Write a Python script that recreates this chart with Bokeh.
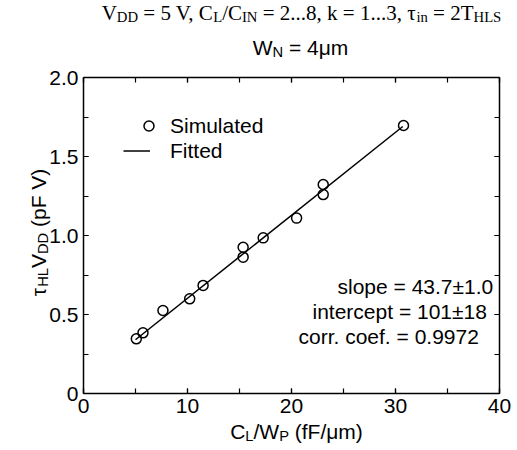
import math
from bokeh.plotting import figure
from bokeh.models import (Range1d, LinearAxis, Label, Legend, LegendItem,
                          SingleIntervalTicker, CustomJSTickFormatter)
from bokeh.embed import file_html
from bokeh.resources import INLINE

# ---------------- data ----------------
sim_x = [5.08, 5.72, 7.64, 10.21, 11.5, 15.35, 15.35, 17.28, 20.49, 23.05, 23.05, 30.77]
sim_y = [0.346, 0.384, 0.525, 0.599, 0.684, 0.926, 0.863, 0.985, 1.11, 1.323, 1.259, 1.696]
fit_x = [5.0, 30.7]
fit_y = [0.34, 1.69]

x_bounds = (0, 40)
y_bounds = (0, 2.0)
x_tick_interval = 10
y_tick_interval = 0.5

legend_labels = ["Simulated", "Fitted"]
stats_lines = ["slope = 43.7\u00b11.0", "intercept = 101\u00b118", "corr. coef. = 0.9972"]

title1_pieces = [("V", 0), ("DD", 1), (" = 5 V, C", 0), ("L", 1), ("/C", 0), ("IN", 1),
                 (" = 2...8, k = 1...3, \u03c4", 0), ("in", 1), (" = 2T", 0), ("HLS", 1)]
title2_pieces = [("W", 0), ("N", 1), (" = 4\u03bcm", 0)]
xlabel_pieces = [("C", 0), ("L", 1), ("/W", 0), ("P", 1), (" (fF/\u03bcm)", 0)]
ylabel_pieces = [("\u03c4", 0), ("HL", 1), ("V", 0), ("DD", 1), (" (pF V)", 0)]

# ---------------- metrics (em widths) ----------------
arial = {' ': .278, '(': .333, ')': .333, '/': .278, '=': .584, '\u00b1': .584, '.': .278,
         'C': .722, 'D': .722, 'F': .611, 'H': .722, 'L': .556, 'N': .722, 'P': .667,
         'V': .667, 'W': .944, 'f': .278, 'm': .833, 'p': .556, '\u03bc': .576, '\u03c4': .45}
for d in "0123456789":
    arial[d] = .556
times = {' ': .25, '=': .564, ',': .25, '.': .25, '/': .278, 'C': .667, 'D': .722,
         'H': .722, 'I': .333, 'L': .611, 'N': .722, 'S': .556, 'T': .611, 'V': .722,
         'k': .5, 'i': .278, 'n': .5, '\u03c4': .44}
for d in "0123456789":
    times[d] = .5
kerning = {("V", ","): -.129}


def text_width(txt, metrics, size):
    w = sum(metrics.get(c, .55) for c in txt)
    if metrics is times:
        w += sum(kerning.get((a, b), 0) for a, b in zip(txt, txt[1:]))
    return w * size


# ---------------- geometry (pixels on the page) ----------------
W, H = 515, 450
PX0, PX1 = 83, 499      # x = 0 and x = 40
PY0, PY1 = 393, 77      # y = 0 and y = 2
BASE_FIX = 6            # Label baseline correction (px)


def dx(px):
    return x_bounds[0] + (px - PX0) / (PX1 - PX0) * (x_bounds[1] - x_bounds[0])


def dy(py):
    return y_bounds[0] + (PY0 - py) / (PY0 - PY1) * (y_bounds[1] - y_bounds[0])


p = figure(width=W, height=H, x_range=Range1d(dx(0), dx(W)), y_range=Range1d(dy(H), dy(0)),
           output_backend="svg", toolbar_location=None,
           min_border_left=0, min_border_right=0, min_border_top=0, min_border_bottom=0)
p.xgrid.visible = False
p.ygrid.visible = False
p.outline_line_color = None
p.background_fill_color = "white"
p.border_fill_color = "white"


def style_axis(ax, labels=True):
    ax.axis_line_color = "black"
    ax.axis_line_width = 1.5
    ax.major_tick_in = 5
    ax.major_tick_out = 0
    ax.minor_tick_in = 5
    ax.minor_tick_out = 0
    ax.major_tick_line_color = "black"
    ax.minor_tick_line_color = "black"
    ax.major_tick_line_width = 1.2
    ax.minor_tick_line_width = 1.2
    ax.major_label_text_font = "Liberation Sans"
    ax.major_label_text_font_size = "21px"
    ax.major_label_text_color = "black"
    ax.major_label_standoff = 5
    if not labels:
        ax.formatter = CustomJSTickFormatter(code='return ""')


xb = p.xaxis[0]
yl = p.yaxis[0]
xb.ticker = SingleIntervalTicker(interval=x_tick_interval, num_minor_ticks=2)
yl.ticker = SingleIntervalTicker(interval=y_tick_interval, num_minor_ticks=2)
xb.formatter = CustomJSTickFormatter(code='return tick == 0 ? "0" : tick.toFixed(0)')
yl.formatter = CustomJSTickFormatter(code='return tick == 0 ? "0" : tick.toFixed(1)')
xb.fixed_location = y_bounds[0]
yl.fixed_location = x_bounds[0]
xb.bounds = x_bounds
yl.bounds = y_bounds
style_axis(xb)
style_axis(yl)

top_ax = LinearAxis(ticker=SingleIntervalTicker(interval=x_tick_interval, num_minor_ticks=2),
                    fixed_location=y_bounds[1], bounds=x_bounds)
right_ax = LinearAxis(ticker=SingleIntervalTicker(interval=y_tick_interval, num_minor_ticks=2),
                      fixed_location=x_bounds[1], bounds=y_bounds)
style_axis(top_ax, labels=False)
style_axis(right_ax, labels=False)
p.add_layout(top_ax, "above")
p.add_layout(right_ax, "right")

# ---------------- glyphs ----------------
r_fit = p.line(fit_x, fit_y, line_color="black", line_width=1.5)
r_sim = p.scatter(sim_x, sim_y, marker="circle", size=10, fill_color=None,
                  line_color="black", line_width=1.5)

# legends (location = lower-left corner, pixels from the frame's lower-left)
common = dict(padding=0, margin=0, spacing=0, border_line_color=None,
              background_fill_alpha=0, label_text_font="Liberation Sans",
              label_text_font_size="21px", label_text_color="black",
              glyph_height=25, label_height=25)
leg1 = Legend(items=[LegendItem(label=legend_labels[0], renderers=[r_sim])],
              location=(136, H - 138), glyph_width=25, label_standoff=9, **common)
leg2 = Legend(items=[LegendItem(label=legend_labels[1], renderers=[r_fit])],
              location=(123, H - 163), glyph_width=27, label_standoff=20, **common)
p.add_layout(leg1)
p.add_layout(leg2)


def add_label(x_px, y_px, txt, font, size, angle=0.0):
    lab = Label(x=dx(x_px), y=dy(y_px), text=txt, angle=angle)
    lab.text_font = font
    lab.text_font_size = f"{size:.1f}px"
    lab.text_color = "black"
    lab.text_align = "left"
    lab.text_baseline = "alphabetic"
    p.add_layout(lab)


# stats text
for txt, lx, base in zip(stats_lines, [337, 312, 298], [292, 317, 342]):
    add_label(lx, base - BASE_FIX, txt, "Liberation Sans", 21)


def compose(pieces, start_px, base_px, font, size, metrics, vertical=False):
    pos = start_px
    for txt, sub in pieces:
        fs = size * 0.7 if sub else size
        shift = size * 0.2 if sub else 0
        lead = len(txt) - len(txt.lstrip(" "))
        lead_w = text_width(" " * lead, metrics, fs)
        w = text_width(txt, metrics, fs)
        core = txt.strip(" ")
        if not vertical:
            add_label(pos + lead_w, base_px + shift - BASE_FIX, core, font, fs)
            pos += w
        else:
            add_label(base_px + shift - BASE_FIX, pos - lead_w, core, font, fs, math.pi / 2)
            pos -= w


def total_width(pieces, metrics, size):
    return sum(text_width(t, metrics, size * (0.7 if s else 1)) for t, s in pieces)


w1 = total_width(title1_pieces, times, 21)
compose(title1_pieces, 301 - w1 / 2, 18.5, "Liberation Serif", 21, times)
w2 = total_width(title2_pieces, arial, 21)
compose(title2_pieces, 300 - w2 / 2, 53, "Liberation Sans", 21, arial)
wx = total_width(xlabel_pieces, arial, 21)
compose(xlabel_pieces, 296 - wx / 2, 437, "Liberation Sans", 21, arial)
wy = total_width(ylabel_pieces, arial, 21)
compose(ylabel_pieces, 232 + wy / 2, 44, "Liberation Sans", 21, arial, vertical=True)

open("out.html", "w").write(file_html(p, INLINE))
